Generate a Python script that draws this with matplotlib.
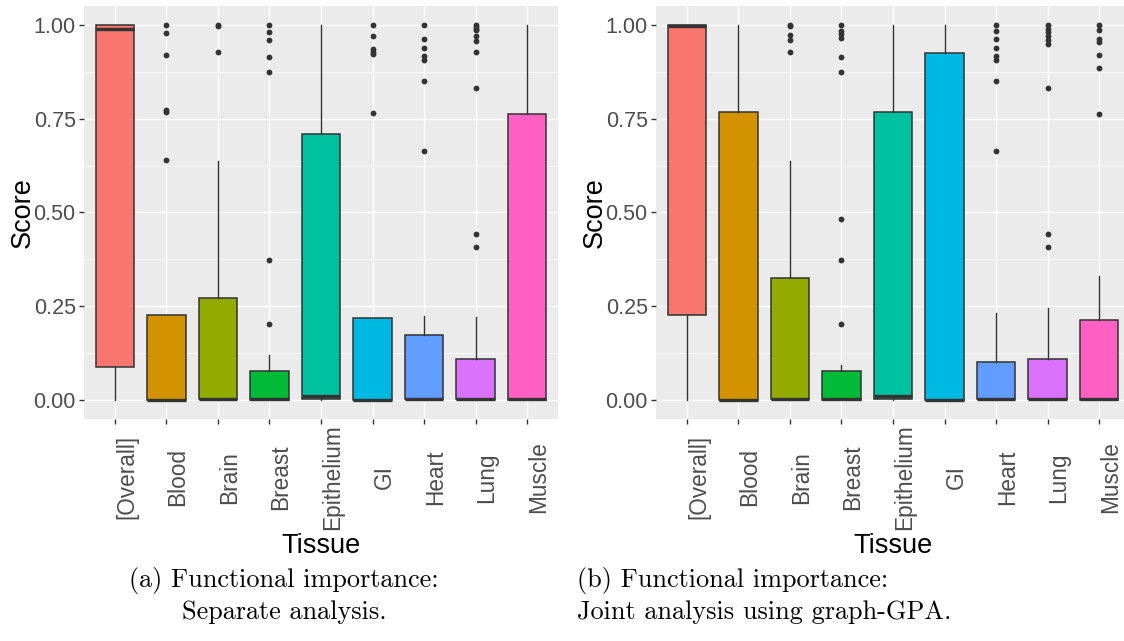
import matplotlib
matplotlib.use("Agg")
import matplotlib.pyplot as plt
from matplotlib.ticker import MultipleLocator

tissues = ["[Overall]", "Blood", "Brain", "Breast", "Epithelium", "GI", "Heart", "Lung", "Muscle"]
colors = ["#F8766D", "#D39200", "#93AA00", "#00BA38", "#00C19F",
          "#00B9E3", "#619CFF", "#DB72FB", "#FF61C3"]

# Separate analysis: box statistics per tissue
sep_q1 = [0.089, 0.0, 0.002, 0.001, 0.003, 0.0, 0.002, 0.002, 0.001]
sep_med = [0.988, 0.001, 0.003, 0.002, 0.011, 0.001, 0.003, 0.003, 0.002]
sep_q3 = [1.0, 0.226, 0.273, 0.078, 0.709, 0.219, 0.173, 0.110, 0.762]
sep_lo = [0.0, 0.0, 0.0, 0.0, 0.0, 0.0, 0.0, 0.0, 0.0]
sep_hi = [1.0, 0.226, 0.636, 0.120, 1.0, 0.219, 0.225, 0.222, 1.0]
sep_out = [
    [],
    [1.0, 0.979, 0.919, 0.774, 0.769, 0.641],
    [1.0, 0.997, 0.927],
    [1.0, 0.982, 0.960, 0.913, 0.873, 0.374, 0.204],
    [],
    [1.0, 0.970, 0.935, 0.927, 0.923, 0.764],
    [1.0, 0.963, 0.937, 0.917, 0.905, 0.849, 0.663],
    [1.0, 0.995, 0.990, 0.985, 0.970, 0.958, 0.928, 0.832, 0.443, 0.409],
    [],
]

# Joint analysis (graph-GPA): box statistics per tissue
jnt_q1 = [0.227, 0.0, 0.002, 0.001, 0.003, 0.0, 0.002, 0.003, 0.001]
jnt_med = [0.998, 0.001, 0.003, 0.002, 0.011, 0.001, 0.003, 0.004, 0.002]
jnt_q3 = [1.0, 0.769, 0.326, 0.078, 0.767, 0.924, 0.102, 0.110, 0.215]
jnt_lo = [0.0, 0.0, 0.0, 0.0, 0.0, 0.0, 0.0, 0.0, 0.0]
jnt_hi = [1.0, 1.0, 0.636, 0.095, 1.0, 1.0, 0.232, 0.246, 0.332]
jnt_out = [
    [],
    [],
    [1.0, 0.997, 0.973, 0.959, 0.927],
    [1.0, 0.983, 0.975, 0.965, 0.913, 0.873, 0.483, 0.374, 0.204],
    [],
    [],
    [1.0, 0.984, 0.963, 0.937, 0.917, 0.905, 0.849, 0.663],
    [1.0, 0.990, 0.980, 0.970, 0.960, 0.950, 0.832, 0.443, 0.409],
    [1.0, 0.987, 0.963, 0.955, 0.920, 0.884, 0.763],
]

y_ticks = [0.0, 0.25, 0.5, 0.75, 1.0]
y_tick_labels = ["0.00", "0.25", "0.50", "0.75", "1.00"]

W, H = 1124, 641
fig = plt.figure(figsize=(W / 100, H / 100), dpi=100)
fig.patch.set_facecolor("white")

SANS = "Liberation Sans"
EDGE = "#333333"


def draw_panel(ax, q1, med, q3, lo, hi, out):
    stats = []
    for i, name in enumerate(tissues):
        stats.append(dict(label=name, q1=q1[i], med=med[i], q3=q3[i],
                          whislo=lo[i], whishi=hi[i], fliers=out[i]))
    pos = list(range(1, len(tissues) + 1))
    bp = ax.bxp(stats, positions=pos, widths=0.75, patch_artist=True,
                showcaps=False, zorder=3,
                boxprops=dict(edgecolor=EDGE, linewidth=1.1),
                whiskerprops=dict(color=EDGE, linewidth=1.0),
                medianprops=dict(color=EDGE, linewidth=2.4, solid_capstyle="butt"),
                flierprops=dict(marker="o", markersize=4.2, markerfacecolor=EDGE,
                                markeredgecolor=EDGE, markeredgewidth=0, linestyle="none"))
    for patch, c in zip(bp["boxes"], colors):
        patch.set_facecolor(c)

    ax.set_facecolor("#EBEBEB")
    ax.set_xlim(0.4, len(tissues) + 0.6)
    ax.set_ylim(-0.05, 1.05)
    ax.set_yticks(y_ticks)
    ax.set_yticklabels(y_tick_labels)
    ax.yaxis.set_minor_locator(MultipleLocator(0.125))
    ax.set_xticks(pos)
    ax.set_xticklabels(tissues, rotation=90, ha="left", va="center")
    for s in ax.spines.values():
        s.set_visible(False)
    ax.grid(which="major", color="white", linewidth=1.0, zorder=0)
    ax.grid(which="minor", axis="y", color="white", linewidth=0.5, zorder=0)
    ax.set_axisbelow(True)
    ax.tick_params(axis="both", which="major", length=3.5, width=1.0, color=EDGE,
                   labelcolor="#4D4D4D")
    ax.tick_params(axis="y", which="major", pad=2.5, labelsize=15.5)
    ax.tick_params(axis="x", which="major", pad=38.5, labelsize=16.3)
    ax.tick_params(which="minor", length=0)
    for lab in ax.get_xticklabels() + ax.get_yticklabels():
        lab.set_fontfamily(SANS)
    ax.set_ylabel("Score", fontsize=19.5, fontfamily=SANS, color="black", va="center")
    ax.set_xlabel("Tissue", fontsize=19.5, fontfamily=SANS, color="black", va="center")
    ax.yaxis.set_label_coords(-61 / 474, 0.5)
    ax.xaxis.set_label_coords(0.5, -(546 - 419) / 413)


top_px, bot_px = 6, 419
ax_h = (bot_px - top_px) / H
ax_b = (H - bot_px) / H
ax1 = fig.add_axes([84 / W, ax_b, 474 / W, ax_h])
ax2 = fig.add_axes([656 / W, ax_b, 474 / W, ax_h])

draw_panel(ax1, sep_q1, sep_med, sep_q3, sep_lo, sep_hi, sep_out)
draw_panel(ax2, jnt_q1, jnt_med, jnt_q3, jnt_lo, jnt_hi, jnt_out)

CAP = dict(fontfamily="cmr10", fontsize=18.9, color="black")
fig.text(284 / W, 1 - 581 / H, "(a) Functional importance:", ha="center", va="center", **CAP)
fig.text(284 / W, 1 - 612 / H, "Separate analysis.", ha="center", va="center", **CAP)
fig.text(577 / W, 1 - 581 / H, "(b) Functional importance:", ha="left", va="center", **CAP)
fig.text(577 / W, 1 - 612 / H, "Joint analysis using graph-GPA.", ha="left", va="center", **CAP)

fig.savefig("out.png", dpi=100, facecolor="white")
